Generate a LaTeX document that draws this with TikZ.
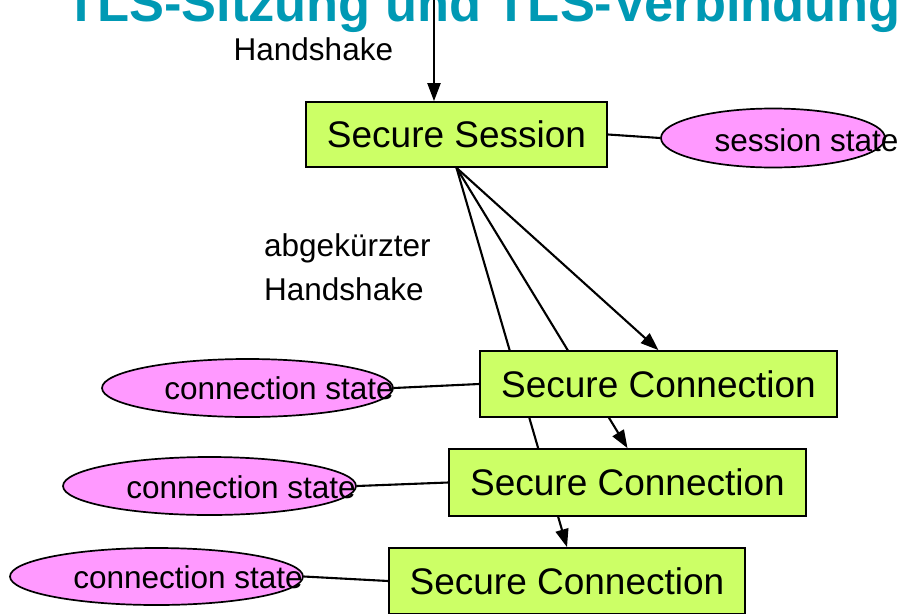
\documentclass[tikz,border=0pt]{standalone}
\usepackage{fontspec}
\setmainfont{Liberation Sans}
\usetikzlibrary{arrows.meta,shapes.geometric,backgrounds}
\definecolor{boxgreen}{HTML}{CCFF66}
\definecolor{statepink}{HTML}{FF99FF}
\definecolor{titleteal}{HTML}{0099B4}
\tikzset{
 secbox/.style={draw=black, line width=1.7pt, fill=boxgreen, inner sep=0pt, font=\fontsize{37}{40}\selectfont},
 stateell/.style={ellipse, draw=black, line width=1.7pt, fill=statepink, inner sep=0pt},
 statetxt/.style={anchor=base, inner sep=0pt, font=\fontsize{31.5}{36}\selectfont},
 plaintxt/.style={anchor=base west, inner sep=0pt, font=\fontsize{31.5}{36}\selectfont},
 link/.style={line width=2.1pt},
 arr/.style={line width=2.1pt, -{Triangle[length=18pt,width=13pt]}},
}
\begin{document}
\begin{tikzpicture}[x=1pt,y=-1pt]
\useasboundingbox (0,0) rectangle (901,613);
% boxes
\node[secbox, minimum width=301pt, minimum height=65pt] (s) at (456.5,134.5) {Secure Session};
\node[secbox, minimum width=357pt, minimum height=66pt] (c1) at (658.5,384) {Secure Connection};
\node[secbox, minimum width=357pt, minimum height=67pt] (c2) at (627.5,482.5) {Secure Connection};
\node[secbox, minimum width=356pt, minimum height=66pt] (c3) at (567,581) {Secure Connection};
% state ellipses
\node[stateell, minimum width=224pt, minimum height=59pt] (se) at (773,138) {};
\node[statetxt] (set) at (806.5,151) {session state};
\node[stateell, minimum width=291pt, minimum height=58pt] (e1) at (247.5,388) {};
\node[statetxt] (t1) at (279,399) {connection state};
\node[stateell, minimum width=293pt, minimum height=58pt] (e2) at (209.5,486) {};
\node[statetxt] (t2) at (241,498) {connection state};
\node[stateell, minimum width=293pt, minimum height=57pt] (e3) at (156.5,576.5) {};
\node[statetxt] (t3) at (188,588) {connection state};
% links
\draw[link] (s.east) -- (se.west);
\draw[link] (e1.east) -- (c1.west);
\draw[link] (e2.east) -- (c2.west);
\draw[link] (e3.east) -- (c3.west);
% labels
\node[plaintxt] (hs) at (233.5,60) {Handshake};
\node[plaintxt] (ab1) at (264,256) {abgekürzter};
\node[plaintxt] (ab2) at (264,300) {Handshake};
\begin{scope}[on background layer]
\fill[white] (0,0) rectangle (901,613);
\node[anchor=base west, inner sep=0pt, text=titleteal, font=\fontsize{52.4}{60}\selectfont\bfseries] (title) at (65,21) {TLS-Sitzung und TLS-Verbindung};
\coordinate (h0) at (434,0);
\draw[arr] (h0) -- (h0 |- s.north);
\draw[arr] (s.south) -- (c1.north);
\draw[arr] (s.south) -- (c2.north);
\draw[arr] (s.south) -- (c3.north);
\end{scope}
\end{tikzpicture}
\end{document}
